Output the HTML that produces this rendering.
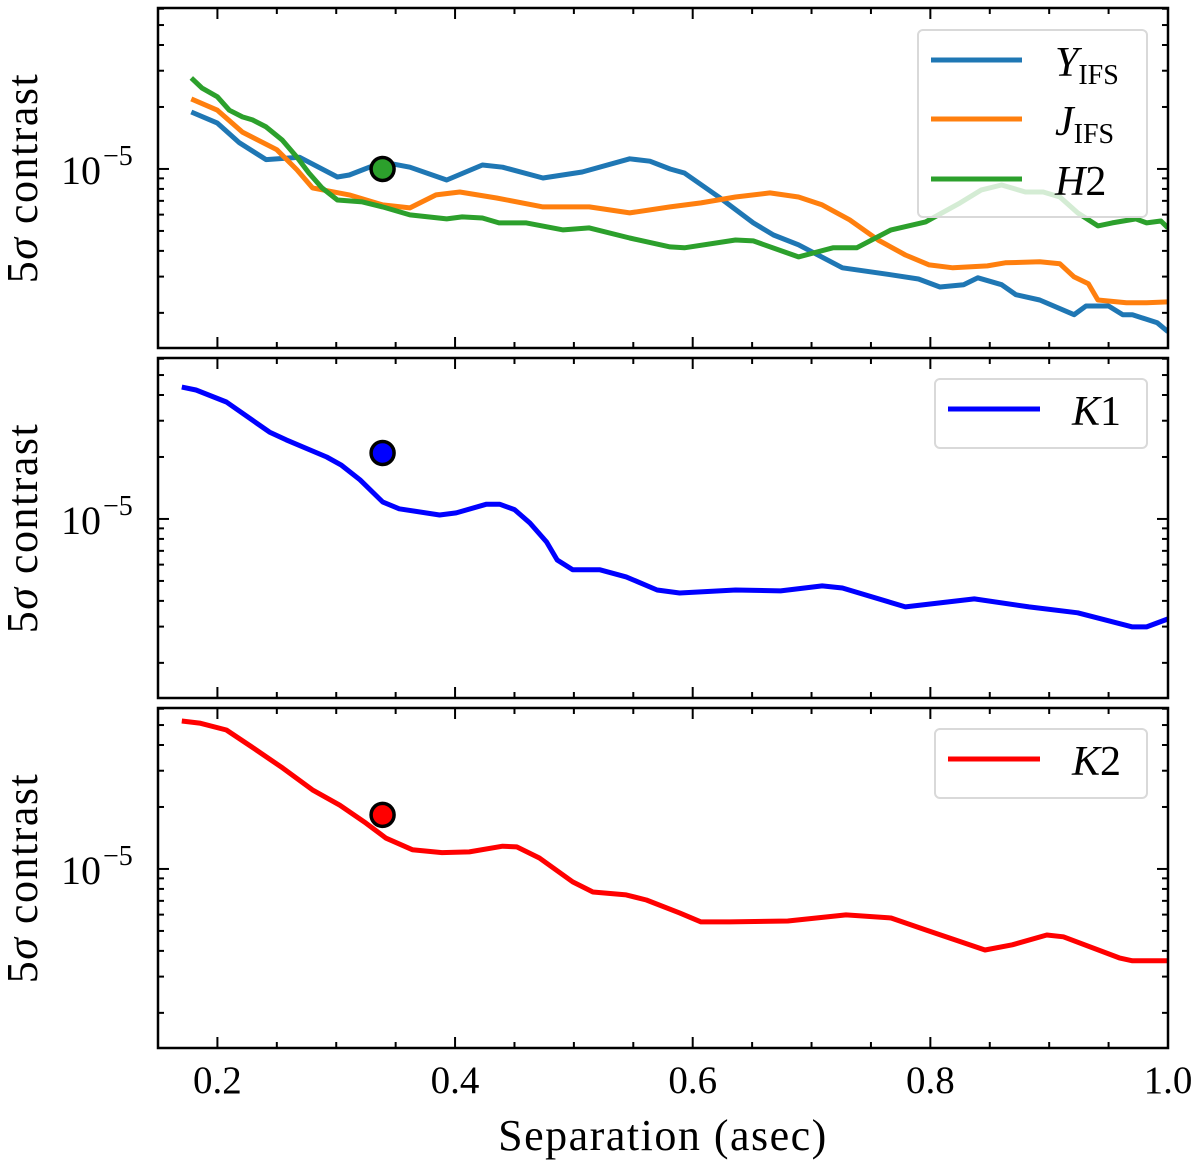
<!DOCTYPE html>
<html><head><meta charset="utf-8">
<style>
html,body{margin:0;padding:0;background:#fff;}
svg{display:block;font-family:"Liberation Serif","DejaVu Serif",serif;}
</style></head>
<body>
<svg id="chart" width="1200" height="1166" viewBox="0 0 1200 1166" xmlns="http://www.w3.org/2000/svg"></svg>
<script>
// ---- data (contrast values in units of 1e-6) ----
const yifsSep = [0.178,0.2,0.2185,0.241,0.269,0.301,0.311,0.339,0.362,0.393,0.423,0.44,0.474,0.507,0.547,0.564,0.581,0.593,0.622,0.651,0.668,0.689,0.726,0.767,0.79,0.808,0.828,0.84,0.86,0.872,0.892,0.921,0.931,0.95,0.962,0.97,0.991,1.0];
const yifsVal = [18.9,16.7,13.4,11.1,11.4,9.14,9.35,10.8,10.2,8.84,10.45,10.2,9.04,9.67,11.2,10.9,10.0,9.56,7.31,5.47,4.78,4.28,3.31,3.06,2.92,2.67,2.74,2.96,2.74,2.45,2.31,1.96,2.16,2.16,1.96,1.96,1.79,1.62];
const jifsSep = [0.178,0.2,0.221,0.25,0.267,0.28,0.311,0.339,0.362,0.384,0.404,0.435,0.474,0.513,0.547,0.581,0.607,0.636,0.665,0.689,0.709,0.732,0.756,0.779,0.799,0.819,0.848,0.863,0.892,0.909,0.921,0.933,0.941,0.965,0.982,1.0];
const jifsVal = [21.9,19.3,15.1,12.4,9.89,8.09,7.48,6.69,6.47,7.48,7.73,7.23,6.54,6.54,6.12,6.54,6.84,7.31,7.65,7.31,6.69,5.66,4.52,3.82,3.42,3.31,3.38,3.50,3.54,3.46,2.99,2.77,2.31,2.24,2.24,2.26];
const h2Sep = [0.178,0.187,0.2,0.21,0.221,0.2295,0.241,0.2547,0.267,0.277,0.288,0.301,0.322,0.339,0.362,0.393,0.406,0.423,0.437,0.46,0.491,0.513,0.547,0.581,0.593,0.636,0.651,0.689,0.718,0.738,0.767,0.796,0.825,0.843,0.86,0.88,0.895,0.909,0.924,0.941,0.953,0.973,0.982,0.994,1.0];
const h2Val = [27.7,24.7,22.4,19.3,17.9,17.3,16.0,13.8,11.4,9.56,8.09,7.07,6.92,6.54,5.98,5.72,5.85,5.78,5.47,5.47,5.06,5.17,4.62,4.18,4.14,4.52,4.47,3.74,4.14,4.14,5.06,5.53,6.84,7.91,8.36,7.73,7.73,7.31,6.12,5.29,5.47,5.72,5.47,5.59,5.17];
const k1Sep = [0.170,0.182,0.2076,0.2438,0.258,0.292,0.304,0.32,0.339,0.353,0.387,0.401,0.4265,0.4375,0.45,0.463,0.477,0.486,0.499,0.522,0.544,0.570,0.589,0.636,0.674,0.709,0.726,0.779,0.837,0.883,0.924,0.970,0.982,1.0];
const k1Val = [43.7,42.3,37.0,26.4,24.2,20.0,18.3,15.5,12.1,11.2,10.45,10.7,11.8,11.8,11.1,9.56,7.73,6.32,5.66,5.66,5.23,4.52,4.37,4.52,4.47,4.73,4.62,3.74,4.09,3.74,3.50,2.99,2.99,3.27];
const k2Sep = [0.170,0.185,0.2076,0.229,0.255,0.28,0.303,0.325,0.342,0.364,0.389,0.412,0.44,0.452,0.471,0.499,0.516,0.544,0.561,0.589,0.607,0.631,0.68,0.729,0.767,0.796,0.846,0.869,0.898,0.912,0.959,0.970,1.0];
const k2Val = [52.3,51.1,47.3,39.1,30.9,24.2,20.4,16.7,14.1,12.4,12.0,12.1,12.9,12.8,11.3,8.65,7.73,7.48,7.07,6.12,5.53,5.53,5.59,5.98,5.78,5.06,4.04,4.28,4.78,4.68,3.70,3.58,3.58];
const companionSep = [0.339,0.339,0.339];
const companionVal = [10.0,20.9,18.3];
const xTickLabels = ["0.2","0.4","0.6","0.8","1.0"];
const xTickValues = [0.2,0.4,0.6,0.8,1.0];

const NS = "http://www.w3.org/2000/svg";
const svg = document.getElementById('chart');
const L = 158, R = 1168, PH = 340, TOPS = [8,358,708];
const XMIN = 0.15, XMAX = 1.0;
const YMAX = 6.05e-5, YMIN = 1.35e-6;
function xs(v){ return L + (v - XMIN) / (XMAX - XMIN) * (R - L); }
function ys(top, v){ const c = v * 1e-6; return top + (Math.log10(YMAX) - Math.log10(c)) / (Math.log10(YMAX) - Math.log10(YMIN)) * PH; }
function ysRaw(top, c){ return top + (Math.log10(YMAX) - Math.log10(c)) / (Math.log10(YMAX) - Math.log10(YMIN)) * PH; }
function mk(tag, attrs, parent){ const e = document.createElementNS(NS, tag); for (const k in attrs) e.setAttribute(k, attrs[k]); (parent || svg).appendChild(e); return e; }

function drawSeries(g, top, sep, val, color, name){
  const pts = sep.map((s,i) => xs(s).toFixed(1) + ',' + ys(top, val[i]).toFixed(1)).join(' ');
  const pl = mk('polyline', {points: pts, fill:'none', stroke: color, 'stroke-width': 5, 'stroke-linejoin':'round', 'stroke-linecap':'butt'}, g);
  
  
}

function drawPanel(idx, top){
  const g = mk('g', {});
  
  
  const clipId = 'clip' + idx;
  const cp = mk('clipPath', {id: clipId}, g);
  mk('rect', {x: L, y: top, width: R-L, height: PH}, cp);
  const series = mk('g', {'clip-path': 'url(#' + clipId + ')'}, g);
  
  
  if (idx === 0){
    drawSeries(series, top, yifsSep, yifsVal, '#1f77b4', 'line-y-ifs');
    drawSeries(series, top, jifsSep, jifsVal, '#ff7f0e', 'line-j-ifs');
    drawSeries(series, top, h2Sep, h2Val, '#2ca02c', 'line-h2');
  } else if (idx === 1){
    drawSeries(series, top, k1Sep, k1Val, '#0000ff', 'line-k1');
  } else {
    drawSeries(series, top, k2Sep, k2Val, '#ff0000', 'line-k2');
  }
  const mcol = ['#2ca02c','#0000ff','#ff0000'][idx];
  const m = mk('circle', {cx: xs(companionSep[idx]), cy: ys(top, companionVal[idx]), r: 11.5, fill: mcol, stroke:'#000', 'stroke-width': 3.5}, g);
  
  

  const tg = mk('g', {stroke:'#000', 'stroke-width': 2}, g);
  
  
  for (let k = 0; k <= 17; k++){
    const v = 0.15 + k * 0.05;
    const x = xs(v);
    const major = Math.abs(v*10 - Math.round(v*10)) < 1e-6 && Math.round(v*10) % 2 === 0;
    const len = major ? 11 : 6;
    mk('line', {x1:x, y1: top, x2: x, y2: top + len}, tg);
    mk('line', {x1:x, y1: top + PH, x2: x, y2: top + PH - len}, tg);
  }
  for (let e = -6; e <= -5; e++){
    for (let m2 = 1; m2 <= 9; m2++){
      const c = m2 * Math.pow(10, e);
      if (c > YMAX || c < YMIN) continue;
      const y = ysRaw(top, c);
      const len = m2 === 1 ? 11 : 6;
      mk('line', {x1: L, y1: y, x2: L + len, y2: y}, tg);
      mk('line', {x1: R, y1: y, x2: R - len, y2: y}, tg);
    }
  }
  const fr = mk('rect', {x: L, y: top, width: R-L, height: PH, fill:'none', stroke:'#000', 'stroke-width': 2.5}, g);
  
  

  const y5 = ysRaw(top, 1e-5);
  const tl = mk('text', {x: 101, y: y5 + 15, 'font-size': 40, 'text-anchor':'end', fill:'#000'}, g);
  tl.textContent = '10';
  
  
  const sup = mk('text', {x: 103, y: y5 - 4, 'font-size': 28, fill:'#000'}, g);
  sup.textContent = '\u22125';
  
  

  const cy = top + PH/2;
  const yt = mk('text', {x: 0, y: 0, 'font-size': 44, 'letter-spacing': 1.5, 'text-anchor':'middle', fill:'#000', transform: 'translate(37,' + cy + ') rotate(-90)'}, g);
  
  
  const t1 = mk('tspan', {}, yt); t1.textContent = '5';
  const t2 = mk('tspan', {'font-style':'italic'}, yt); t2.textContent = 'σ';
  const t3 = mk('tspan', {}, yt); t3.textContent = ' contrast';
}

TOPS.forEach((t,i) => drawPanel(i, t));

xTickValues.forEach((v,i) => {
  const t = mk('text', {x: xs(v), y: 1093, 'font-size': 39, 'text-anchor':'middle', fill:'#000'});
  t.textContent = xTickLabels[i];
  
  
});
const xt = mk('text', {x: 663, y: 1150, 'font-size': 44, 'letter-spacing': 1.5, 'text-anchor':'middle', fill:'#000'});
xt.textContent = 'Separation (asec)';



function legend(name, box, entries){
  const g = mk('g', {});
  
  
  mk('rect', {x: box[0], y: box[1], width: box[2], height: box[3], rx: 5, fill:'rgba(255,255,255,0.8)', stroke:'#d9d9d9', 'stroke-width': 2}, g);
  entries.forEach(en => {
    const eg = mk('g', {}, g);
    
    
    mk('line', {x1: en.x1, y1: en.y, x2: en.x2, y2: en.y, stroke: en.color, 'stroke-width': 5}, eg);
    const t = mk('text', {x: en.tx, y: en.y + 16, 'font-size': 42, fill:'#000'}, eg);
    const a = mk('tspan', {'font-style':'italic'}, t); a.textContent = en.main;
    if (en.sub){ const b = mk('tspan', {'font-size': 28, dy: 8}, t); b.textContent = en.sub; }
    if (en.num){ const c = mk('tspan', {}, t); c.textContent = en.num; }
  });
}
legend('legend-top', [918,30,229,187], [
  {x1:931, x2:1022, y:60, color:'#1f77b4', tx:1055, main:'Y', sub:'IFS'},
  {x1:931, x2:1022, y:119, color:'#ff7f0e', tx:1055, main:'J', sub:'IFS'},
  {x1:931, x2:1022, y:179, color:'#2ca02c', tx:1055, main:'H', num:'2'}
]);
legend('legend-k1', [935,379,212,69], [
  {x1:948, x2:1040, y:409, color:'#0000ff', tx:1072, main:'K', num:'1'}
]);
legend('legend-k2', [935,729,212,69], [
  {x1:948, x2:1040, y:759, color:'#ff0000', tx:1072, main:'K', num:'2'}
]);
</script>
</body></html>
